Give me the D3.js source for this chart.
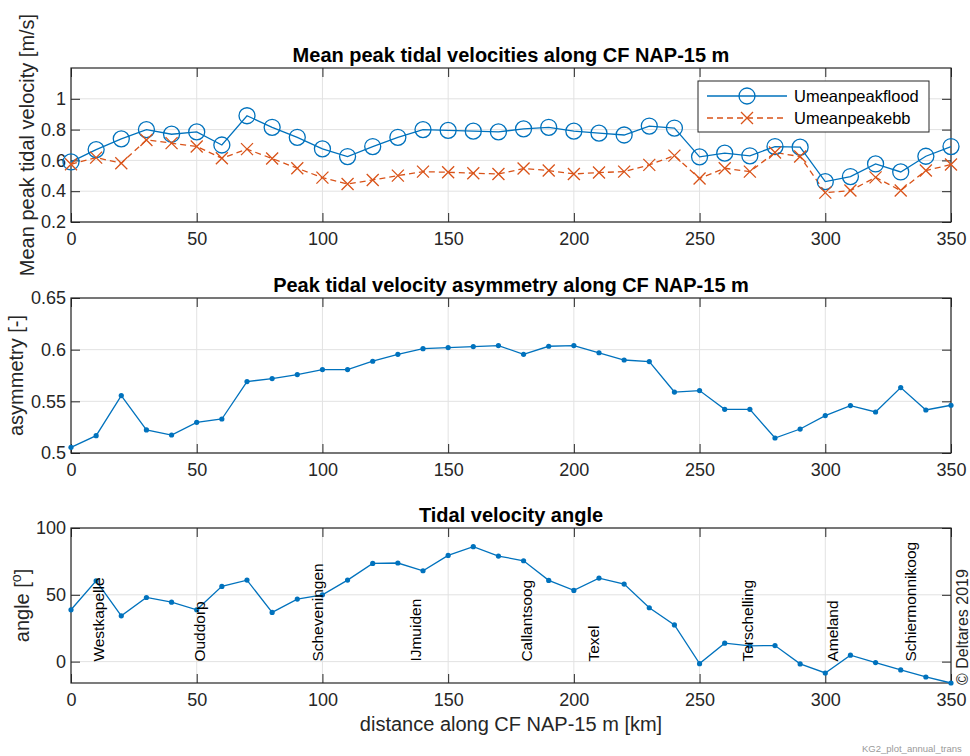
<!DOCTYPE html>
<html>
<head>
<meta charset="utf-8">
<script src="https://cdn.jsdelivr.net/npm/d3@7"></script>
<style>
  html, body { margin: 0; padding: 0; background: #fff; overflow: hidden; }
  svg { display: block; font-family: "Liberation Sans", Arial, Helvetica, sans-serif; }
</style>
</head>
<body>
<svg id="chart" width="970" height="756"></svg>
<script>
// Distance along the NAP-15 m depth contour [km]
const distance = [0,10,20,30,40,50,60,70,80,90,100,110,120,130,140,150,160,170,
  180,190,200,210,220,230,240,250,260,270,280,290,300,310,320,330,340,350];

// Mean peak flood and ebb velocity [m/s]
const uMeanPeakFlood = [0.59,0.67,0.74,0.80,0.77,0.785,0.70,0.89,0.815,0.75,0.675,0.625,
  0.69,0.75,0.80,0.795,0.79,0.785,0.805,0.815,0.79,0.777,0.765,0.823,0.81,0.623,
  0.647,0.63,0.69,0.686,0.462,0.495,0.577,0.525,0.627,0.69];
const uMeanPeakEbb = [0.575,0.618,0.582,0.733,0.712,0.69,0.614,0.673,0.612,0.549,0.488,0.447,
  0.473,0.501,0.527,0.523,0.517,0.512,0.547,0.534,0.512,0.521,0.527,0.571,0.631,0.482,
  0.549,0.527,0.651,0.625,0.391,0.404,0.49,0.404,0.534,0.573];

// Peak tidal velocity asymmetry [-]
const asymmetry = [0.5055,0.5168,0.5556,0.5223,0.5174,0.5297,0.5329,0.5691,0.572,0.5759,
  0.5807,0.5807,0.5888,0.5955,0.601,0.602,0.603,0.604,0.5955,0.6033,0.604,0.597,0.590,
  0.5885,0.559,0.5604,0.5423,0.5423,0.5145,0.5232,0.5362,0.5459,0.5397,0.5633,0.5416,0.5462];

// Tidal velocity angle [degrees]
const angle = [38.8,60.5,34.3,48,44.5,38.8,56.3,61,36.8,46.8,50,61,73.5,73.8,68,79.5,86,79,
  75.5,60.8,53.3,62.5,58,40.3,27.5,-1.5,13.8,11.8,12,-1.7,-8.5,4.8,-0.7,-6.2,-11.5,-16];

// Coastal locations along the contour [km]
const placeNames = ["Westkapelle","Ouddorp","Scheveningen","IJmuiden","Callantsoog",
  "Texel","Terschelling","Ameland","Schiermonnikoog"];
const placeKm = [11,51,98,137,181,208,269,303,334];

// Axis ticks
const xTicks = [0,50,100,150,200,250,300,350];
const yTicksVel = [0.2,0.4,0.6,0.8,1];
const yTicksAsym = [0.5,0.55,0.6,0.65];
const yTicksAngle = [0,50,100];

const seriesNames = ["Umeanpeakflood","Umeanpeakebb"];

const C_AX = "#262626", C_GRID = "#e2e2e2";
const C_BLUE = "#0072BD", C_RED = "#D95319";
const TICK_FS = 18, LABEL_FS = 20, TITLE_FS = 20;

const svg = d3.select("#chart");
const L = 71, R = 951;
const x = d3.scaleLinear().domain([0,350]).range([L,R]);

function panel(top, bottom, yDomain, yTicks, title, yLabel, yLabelX, fmt) {
  const y = d3.scaleLinear().domain(yDomain).range([bottom, top]);
  const g = svg.append("g");
  // grid
  g.selectAll(".gx").data(xTicks).join("line")
    .attr("x1", d => x(d)).attr("x2", d => x(d)).attr("y1", top).attr("y2", bottom)
    .attr("stroke", C_GRID).attr("stroke-width", 1);
  g.selectAll(".gy").data(yTicks).join("line")
    .attr("x1", L).attr("x2", R).attr("y1", d => y(d)).attr("y2", d => y(d))
    .attr("stroke", C_GRID).attr("stroke-width", 1);
  // axes through d3 axis generators (inner ticks, box)
  const tk = 9;
  const styleAxis = sel => {
    sel.select(".domain").remove();
    sel.selectAll(".tick line").attr("stroke", C_AX).attr("stroke-width", 1);
    sel.selectAll(".tick text").attr("fill", C_AX).attr("font-size", TICK_FS)
      .attr("font-family", "Liberation Sans, Arial, sans-serif");
  };
  g.append("g").attr("transform", `translate(0,${bottom})`)
    .call(d3.axisBottom(x).tickValues(xTicks).tickSizeInner(-tk).tickSizeOuter(0).tickPadding(10))
    .call(styleAxis);
  g.append("g").attr("transform", `translate(0,${top})`)
    .call(d3.axisTop(x).tickValues(xTicks).tickSizeInner(-tk).tickSizeOuter(0).tickFormat(""))
    .call(styleAxis);
  g.append("g").attr("transform", `translate(${L},0)`)
    .call(d3.axisLeft(y).tickValues(yTicks).tickSizeInner(-tk).tickSizeOuter(0).tickPadding(5).tickFormat(fmt))
    .call(styleAxis);
  g.append("g").attr("transform", `translate(${R},0)`)
    .call(d3.axisRight(y).tickValues(yTicks).tickSizeInner(-tk).tickSizeOuter(0).tickFormat(""))
    .call(styleAxis);
  g.append("rect").attr("x", L).attr("y", top).attr("width", R - L).attr("height", bottom - top)
    .attr("fill", "none").attr("stroke", C_AX).attr("stroke-width", 1.2);
  // title
  svg.append("text").attr("x", (L + R) / 2).attr("y", top - 6.5)
    .attr("text-anchor", "middle").attr("font-size", TITLE_FS).attr("font-weight", "bold")
    .attr("fill", "#000").text(title);
  // y label
  const yl = svg.append("text")
    .attr("transform", `translate(${yLabelX},${(top + bottom) / 2}) rotate(-90)`)
    .attr("text-anchor", "middle").attr("font-size", LABEL_FS).attr("fill", C_AX);
  yLabel(yl);
  return y;
}

const fmtG = d3.format("~g");

// ---------- Panel 1: mean peak velocities ----------
const y1 = panel(68, 222, [0.2, 1.2], yTicksVel,
  "Mean peak tidal velocities along CF NAP-15 m",
  t => t.text("Mean peak tidal velocity [m/s]"), 34, fmtG);

const line1 = d3.line().x((d, i) => x(distance[i])).y(d => y1(d));
svg.append("path").datum(uMeanPeakFlood).attr("d", line1)
  .attr("fill", "none").attr("stroke", C_BLUE).attr("stroke-width", 1.3);
svg.append("path").datum(uMeanPeakEbb).attr("d", line1)
  .attr("fill", "none").attr("stroke", C_RED).attr("stroke-width", 1.3)
  .attr("stroke-dasharray", "6,4");

svg.append("g").selectAll("circle").data(uMeanPeakFlood).join("circle")
  .attr("cx", (d, i) => x(distance[i])).attr("cy", d => y1(d)).attr("r", 8)
  .attr("fill", "none").attr("stroke", C_BLUE).attr("stroke-width", 1.3);

const cross = (g, cx, cy, s, color) => {
  g.append("path")
    .attr("d", `M${cx - s},${cy - s}L${cx + s},${cy + s}M${cx - s},${cy + s}L${cx + s},${cy - s}`)
    .attr("stroke", color).attr("stroke-width", 1.3).attr("fill", "none");
};
const crossG = svg.append("g");
uMeanPeakEbb.forEach((d, i) => cross(crossG, x(distance[i]), y1(d), 6, C_RED));

// legend
const lg = svg.append("g");
lg.append("rect").attr("x", 698).attr("y", 81).attr("width", 231).attr("height", 51)
  .attr("fill", "#fff").attr("stroke", C_AX).attr("stroke-width", 1);
const legendRows = [96, 118];
lg.append("line").attr("x1", 707).attr("x2", 787).attr("y1", legendRows[0]).attr("y2", legendRows[0])
  .attr("stroke", C_BLUE).attr("stroke-width", 1.3);
lg.append("circle").attr("cx", 747).attr("cy", legendRows[0]).attr("r", 8)
  .attr("fill", "none").attr("stroke", C_BLUE).attr("stroke-width", 1.3);
lg.append("line").attr("x1", 707).attr("x2", 787).attr("y1", legendRows[1]).attr("y2", legendRows[1])
  .attr("stroke", C_RED).attr("stroke-width", 1.3).attr("stroke-dasharray", "6,4");
cross(lg, 747, legendRows[1], 6, C_RED);
seriesNames.forEach((n, i) => {
  lg.append("text").attr("x", 794).attr("y", legendRows[i]).attr("dy", "0.35em")
    .attr("font-size", 16.5).attr("fill", "#000").text(n);
});

// ---------- Panel 2: asymmetry ----------
const y2 = panel(298, 453, [0.5, 0.65], yTicksAsym,
  "Peak tidal velocity asymmetry along CF NAP-15 m",
  t => t.text("asymmetry [-]"), 23, fmtG);

const line2 = d3.line().x((d, i) => x(distance[i])).y(d => y2(d));
svg.append("path").datum(asymmetry).attr("d", line2)
  .attr("fill", "none").attr("stroke", C_BLUE).attr("stroke-width", 1.3);
svg.append("g").selectAll("circle").data(asymmetry).join("circle")
  .attr("cx", (d, i) => x(distance[i])).attr("cy", d => y2(d)).attr("r", 2.6).attr("fill", C_BLUE);

// ---------- Panel 3: angle ----------
const y3 = panel(528, 683, [-16, 100], yTicksAngle,
  "Tidal velocity angle",
  t => {
    t.append("tspan").text("angle [");
    t.append("tspan").attr("baseline-shift", "super").attr("font-size", 14).text("o");
    t.append("tspan").text("]");
  }, 29, fmtG);

const line3 = d3.line().x((d, i) => x(distance[i])).y(d => y3(d));
svg.append("path").datum(angle).attr("d", line3)
  .attr("fill", "none").attr("stroke", C_BLUE).attr("stroke-width", 1.3);
svg.append("g").selectAll("circle").data(angle).join("circle")
  .attr("cx", (d, i) => x(distance[i])).attr("cy", d => y3(d)).attr("r", 2.6).attr("fill", C_BLUE);

// place names, rotated, starting at angle 0
svg.append("g").selectAll("text").data(placeNames).join("text")
  .attr("transform", (d, i) => `translate(${x(placeKm[i])},${y3(0)}) rotate(-90)`)
  .attr("dy", "0.35em").attr("font-size", 15.5).attr("fill", "#000").text(d => d);

// x label
svg.append("text").attr("x", (L + R) / 2).attr("y", 731).attr("text-anchor", "middle")
  .attr("font-size", LABEL_FS).attr("fill", C_AX).text("distance along CF NAP-15 m [km]");

// copyright
svg.append("text").attr("transform", `translate(962,685) rotate(-90)`)
  .attr("dy", "0.35em").attr("font-size", 16).attr("fill", C_AX).text("\u00A9 Deltares 2019");

// file tag
svg.append("text").attr("x", 862).attr("y", 752).attr("font-size", 9.5).attr("fill", "#9a9a9a")
  .text("KG2_plot_annual_trans");
</script>
</body>
</html>
